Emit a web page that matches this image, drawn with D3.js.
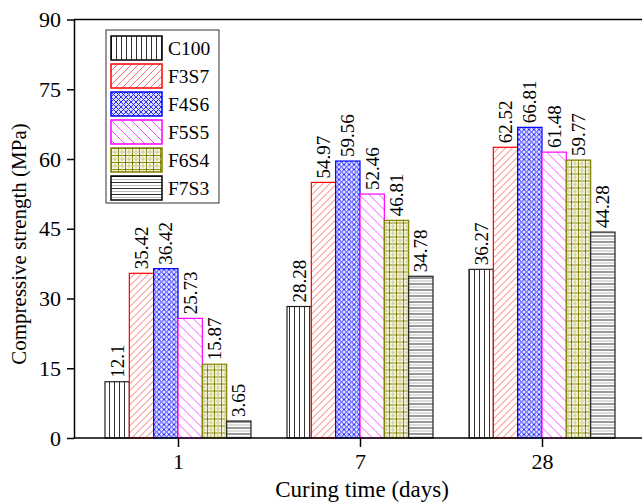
<!DOCTYPE html>
<html>
<head>
<meta charset="utf-8">
<script src="https://cdn.jsdelivr.net/npm/d3@7"></script>
<style>
  body { margin: 0; background: #fff; }
  text { font-family: "Liberation Serif", "Times New Roman", serif; fill: #000; }
</style>
</head>
<body>
<script>
var days = ["1", "7", "28"];
var mixes = ["C100", "F3S7", "F4S6", "F5S5", "F6S4", "F7S3"];
var strength = {
  C100: [12.1, 28.28, 36.27],
  F3S7: [35.42, 54.97, 62.52],
  F4S6: [36.42, 59.56, 66.81],
  F5S5: [25.73, 52.46, 61.48],
  F6S4: [15.87, 46.81, 59.77],
  F7S3: [3.65, 34.78, 44.28]
};
var labels = {
  C100: ["12.1", "28.28", "36.27"],
  F3S7: ["35.42", "54.97", "62.52"],
  F4S6: ["36.42", "59.56", "66.81"],
  F5S5: ["25.73", "52.46", "61.48"],
  F6S4: ["15.87", "46.81", "59.77"],
  F7S3: ["3.65", "34.78", "44.28"]
};
var yTicks = [0, 15, 30, 45, 60, 75, 90];

var width = 642, height = 504;
var margin = { top: 19.5, right: -10, bottom: 66, left: 74 };
var outline = { C100: "#222", F3S7: "#ff0000", F4S6: "#0000ff", F5S5: "#ff00ff", F6S4: "#808000", F7S3: "#222" };

var svg = d3.select("body").append("svg")
  .attr("width", width)
  .attr("height", height);

var defs = svg.append("defs");

function pattern(id, w, h) {
  return defs.append("pattern")
    .attr("id", id)
    .attr("patternUnits", "userSpaceOnUse")
    .attr("width", w)
    .attr("height", h);
}

// vertical lines
var p = pattern("pC100", 5, 10);
p.append("rect").attr("width", 5).attr("height", 10).attr("fill", "#fff");
p.append("line").attr("x1", 0.5).attr("x2", 0.5).attr("y1", 0).attr("y2", 10).attr("stroke", "#333").attr("stroke-width", 1);

// "/" diagonals
p = pattern("pF3S7", 7, 7);
p.append("rect").attr("width", 7).attr("height", 7).attr("fill", "#fff");
p.append("path").attr("d", "M-1,8 L8,-1 M-1,1 L1,-1 M6,8 L8,6").attr("stroke", "#ff7070").attr("stroke-width", 1);

// crosshatch
p = pattern("pF4S6", 5, 5);
p.append("rect").attr("width", 5).attr("height", 5).attr("fill", "#dcdcff");
p.append("path").attr("d", "M0,0 L5,5 M5,0 L0,5").attr("stroke", "#2a2aff").attr("stroke-width", 1);

// "\" diagonals
p = pattern("pF5S5", 10, 10);
p.append("rect").attr("width", 10).attr("height", 10).attr("fill", "#fff");
p.append("path").attr("d", "M-1,-1 L11,11 M9,-1 L11,1 M-1,9 L1,11").attr("stroke", "#ff50ff").attr("stroke-width", 1);

// grid
p = pattern("pF6S4", 7, 7);
p.append("rect").attr("width", 7).attr("height", 7).attr("fill", "#fbfbe8");
p.append("path").attr("d", "M0.5,0 L0.5,7 M0,0.5 L7,0.5").attr("stroke", "#808000").attr("stroke-width", 1);
p.append("path").attr("d", "M4,0 L4,7 M0,4 L7,4").attr("stroke", "#c8c890").attr("stroke-width", 1);

// horizontal lines
p = pattern("pF7S3", 10, 6);
p.append("rect").attr("width", 10).attr("height", 6).attr("fill", "#fff");
p.append("line").attr("x1", 0).attr("x2", 10).attr("y1", 0.5).attr("y2", 0.5).attr("stroke", "#333").attr("stroke-width", 1);
p.append("line").attr("x1", 0).attr("x2", 10).attr("y1", 3.5).attr("y2", 3.5).attr("stroke", "#bbb").attr("stroke-width", 1);

var plotW = width - margin.left - margin.right;
var plotH = height - margin.top - margin.bottom;

var g = svg.append("g").attr("transform", "translate(" + margin.left + "," + margin.top + ")");

var x = d3.scalePoint().domain(days).range([104, 468]);
var xs = d3.scaleBand().domain(mixes).range([-73, 73]);
var y = d3.scaleLinear().domain([0, 90]).range([plotH, 0]);

// bars
mixes.forEach(function (m) {
  var series = g.append("g").attr("class", "series");
  series.selectAll("rect")
    .data(days)
    .enter().append("rect")
    .attr("x", function (d) { return x(d) + xs(m); })
    .attr("y", function (d, i) { return y(strength[m][i]); })
    .attr("width", xs.bandwidth())
    .attr("height", function (d, i) { return plotH - y(strength[m][i]); })
    .attr("fill", "url(#p" + m + ")")
    .attr("stroke", outline[m])
    .attr("stroke-width", 1.2);

  series.selectAll("text")
    .data(days)
    .enter().append("text")
    .attr("transform", function (d, i) {
      var cx = x(d) + xs(m) + xs.bandwidth() / 2;
      return "translate(" + cx + "," + (y(strength[m][i]) - 4) + ") rotate(-90)";
    })
    .attr("dy", "0.35em")
    .style("font-size", "19px")
    .text(function (d, i) { return labels[m][i]; });
});

// frame: top line
g.append("line").attr("x1", 0).attr("x2", plotW).attr("y1", 0).attr("y2", 0).attr("stroke", "#000").attr("stroke-width", 1.5);

var yAxis = g.append("g")
  .call(d3.axisLeft(y).tickValues(yTicks).tickSize(7).tickPadding(6).tickSizeOuter(0));
yAxis.selectAll("text").style("font-size", "22px").attr("font-family", null);
yAxis.selectAll("line, path").attr("stroke", "#000").attr("stroke-width", 1.5);

var xAxis = g.append("g")
  .attr("transform", "translate(0," + plotH + ")")
  .call(d3.axisBottom(x).tickSize(9).tickPadding(6).tickSizeOuter(0));
xAxis.select(".domain").attr("d", "M0,0H" + plotW);
xAxis.selectAll("text").style("font-size", "22px").attr("font-family", null);
xAxis.selectAll("line, path").attr("stroke", "#000").attr("stroke-width", 1.5);

// axis titles
svg.append("text")
  .attr("x", 362)
  .attr("y", 497)
  .attr("text-anchor", "middle")
  .style("font-size", "23px")
  .text("Curing time (days)");

svg.append("text")
  .attr("transform", "translate(26,244) rotate(-90)")
  .attr("text-anchor", "middle")
  .style("font-size", "21px")
  .text("Compressive strength (MPa)");

// legend
var legend = svg.append("g").attr("transform", "translate(106,30)");
legend.append("rect")
  .attr("width", 113)
  .attr("height", 173)
  .attr("fill", "#fff")
  .attr("stroke", "#333")
  .attr("stroke-width", 1);

var item = legend.selectAll(".item")
  .data(mixes)
  .enter().append("g")
  .attr("class", "item")
  .attr("transform", function (d, i) { return "translate(5," + (6 + i * 28) + ")"; });

item.append("rect")
  .attr("width", 51)
  .attr("height", 24)
  .attr("fill", function (d) { return "url(#p" + d + ")"; })
  .attr("stroke", function (d) { return d === "C100" || d === "F7S3" ? "#000" : outline[d]; })
  .attr("stroke-width", 1.5);

item.append("text")
  .attr("x", 57)
  .attr("y", 12)
  .attr("dy", "0.35em")
  .style("font-size", "19.5px")
  .text(function (d) { return d; });
</script>
</body>
</html>
